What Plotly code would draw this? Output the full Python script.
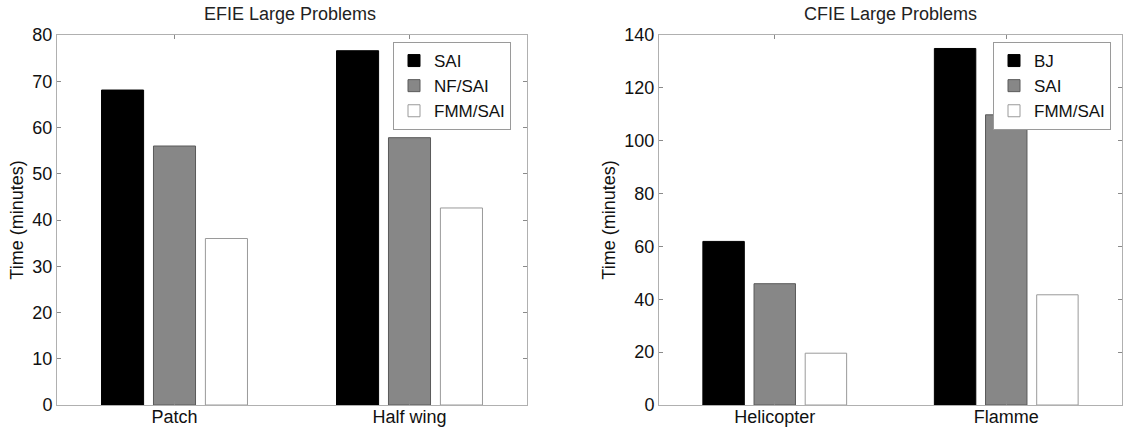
import plotly.graph_objects as go

# Left panel data
efie_cats = ["Patch", "Half wing"]
efie_series = ["SAI", "NF/SAI", "FMM/SAI"]
efie_sai = [68.1, 76.6]
efie_nfsai = [56.0, 57.8]
efie_fmmsai = [36.0, 42.6]

# Right panel data
cfie_cats = ["Helicopter", "Flamme"]
cfie_series = ["BJ", "SAI", "FMM/SAI"]
cfie_bj = [61.9, 134.9]
cfie_sai = [45.9, 109.8]
cfie_fmmsai = [19.6, 41.7]

fills = ["#000000", "#878787", "#ffffff"]
edges = ["#000000", "#5a5a5a", "#9a9a9a"]

W, H = 1123, 429
fig = go.Figure()

for name, vals, fc, ec in zip(efie_series, [efie_sai, efie_nfsai, efie_fmmsai], fills, edges):
    fig.add_trace(go.Bar(x=efie_cats, y=vals, name=name, marker=dict(color=fc, line=dict(color=ec, width=1)),
                         xaxis="x", yaxis="y", legend="legend", offsetgroup=name))
for name, vals, fc, ec in zip(cfie_series, [cfie_bj, cfie_sai, cfie_fmmsai], fills, edges):
    fig.add_trace(go.Bar(x=cfie_cats, y=vals, name=name, marker=dict(color=fc, line=dict(color=ec, width=1)),
                         xaxis="x2", yaxis="y2", legend="legend2", offsetgroup="r" + name))

def px_x(p):
    return p / W

def px_y(p):
    return 1 - p / H

font_family = "Liberation Sans, Arial, sans-serif"
axis_common = dict(showline=True, linecolor="#b0b0b0", linewidth=1, mirror="allticks", ticks="inside",
                   ticklen=4, tickcolor="#8a8a8a", showgrid=False, zeroline=False, automargin=False,
                   tickfont=dict(family=font_family, size=18, color="#111111"))

legend_common = dict(xanchor="left", yanchor="top", bordercolor="#9a9a9a", borderwidth=1,
                     bgcolor="white", font=dict(size=17), tracegroupgap=0, itemwidth=30)

fig.update_layout(
    width=W, height=H,
    margin=dict(l=0, r=0, t=0, b=0, autoexpand=False),
    paper_bgcolor="white", plot_bgcolor="white",
    barmode="group", bargap=0.337, bargroupgap=0.19,
    font=dict(family=font_family, color="#111111"),
    xaxis=dict(domain=[px_x(57), px_x(527)], anchor="y", range=[-0.5, 1.5], ticklabelstandoff=-5, **axis_common),
    yaxis=dict(domain=[px_y(405), px_y(35)], anchor="x", range=[0, 80], dtick=10,
               title=dict(text="Time (minutes)", font=dict(size=18), standoff=4), **axis_common),
    xaxis2=dict(domain=[px_x(659), px_x(1122)], anchor="y2", range=[-0.5, 1.5], ticklabelstandoff=-5, **axis_common),
    yaxis2=dict(domain=[px_y(405), px_y(35)], anchor="x2", range=[0, 140], dtick=20,
                title=dict(text="Time (minutes)", font=dict(size=18), standoff=4), **axis_common),
    legend=dict(x=px_x(393), y=px_y(42), **legend_common),
    legend2=dict(x=px_x(993), y=px_y(42), **legend_common),
    annotations=[
        dict(text="EFIE Large Problems", x=px_x(290), y=px_y(14), xref="paper", yref="paper",
             xanchor="center", yanchor="middle",
             showarrow=False, font=dict(size=18, color="#222222")),
        dict(text="CFIE Large Problems", x=px_x(890), y=px_y(14), xref="paper", yref="paper",
             xanchor="center", yanchor="middle",
             showarrow=False, font=dict(size=18, color="#222222")),
    ],
)

fig.write_html("out.html", config={"displayModeBar": False},
               post_script="document.body.style.margin='0';document.body.style.padding='0';"
                           "document.documentElement.style.overflow='hidden';")
